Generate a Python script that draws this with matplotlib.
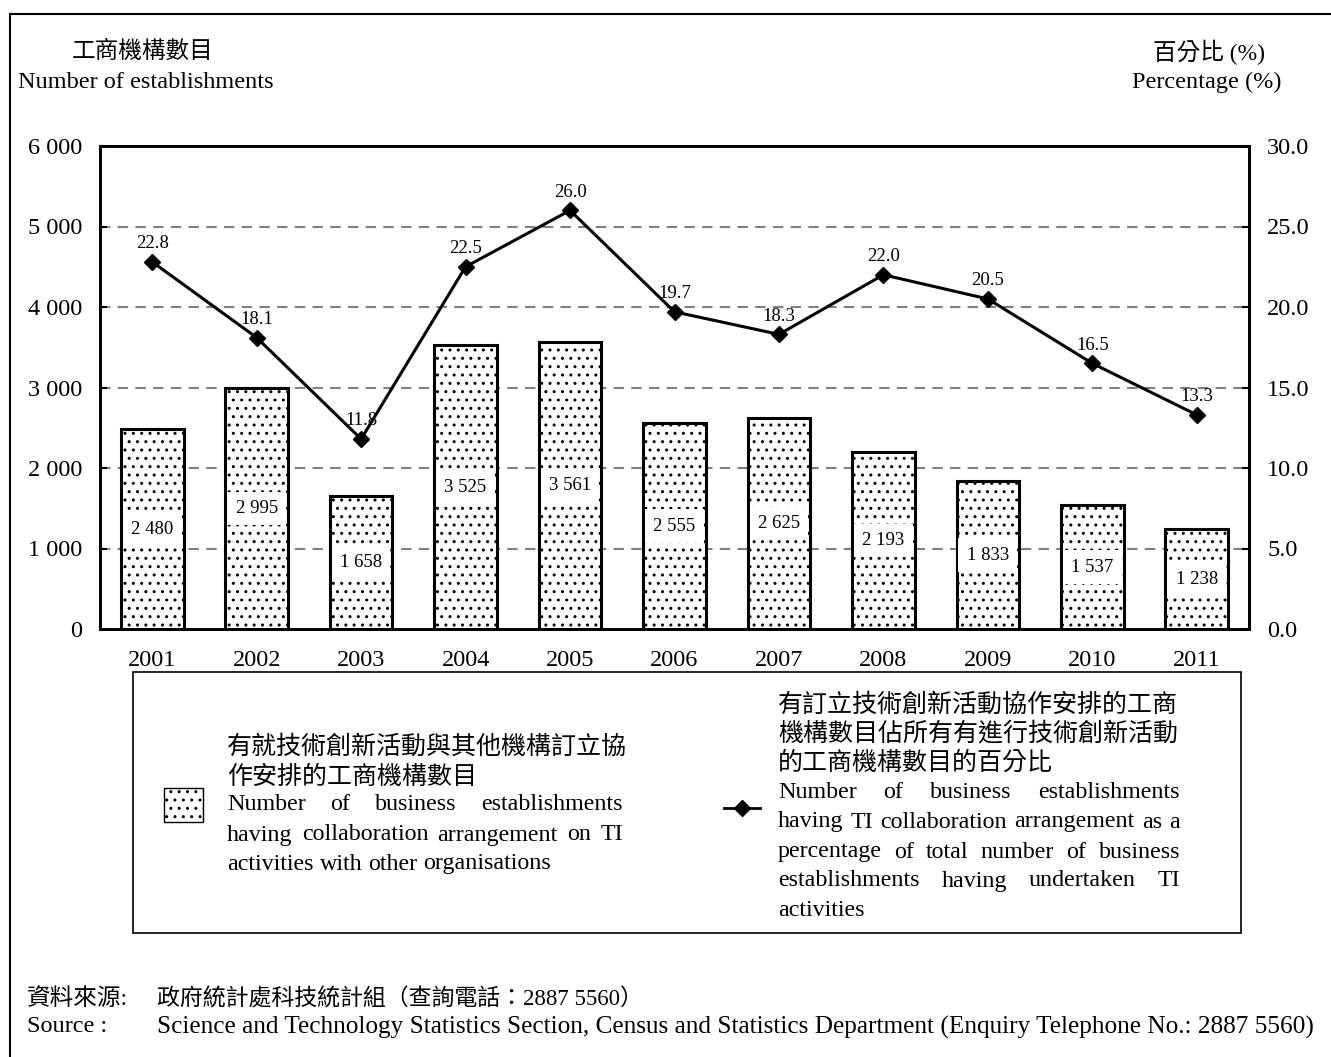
import matplotlib
matplotlib.use("Agg")
import matplotlib.pyplot as plt
from matplotlib.patches import Rectangle
from matplotlib.lines import Line2D
import numpy as np

plt.rcParams['hatch.linewidth'] = 1.0
FAM = ['Liberation Serif', 'Noto Sans CJK TC']
plt.rcParams['font.family'] = FAM

years = ['2001', '2002', '2003', '2004', '2005', '2006', '2007', '2008', '2009', '2010', '2011']
counts = [2480, 2995, 1658, 3525, 3561, 2555, 2625, 2193, 1833, 1537, 1238]
count_labels = ['2 480', '2 995', '1 658', '3 525', '3 561', '2 555', '2 625', '2 193', '1 833', '1 537', '1 238']
pct = [22.8, 18.1, 11.8, 22.5, 26.0, 19.7, 18.3, 22.0, 20.5, 16.5, 13.3]
left_ticks = [0, 1000, 2000, 3000, 4000, 5000, 6000]
left_ticklabels = ['0', '1 000', '2 000', '3 000', '4 000', '5 000', '6 000']
right_ticks = [0, 5, 10, 15, 20, 25, 30]
right_ticklabels = ['0.0', '5.0', '10.0', '15.0', '20.0', '25.0', '30.0']

W, H = 1331, 1057
fig = plt.figure(figsize=(W / 100, H / 100), dpi=100)

def fx(px):
    return px / W

def fy(py):
    return 1 - py / H

TFS = 17.5
ax = fig.add_axes([fx(100), fy(629), fx(1249) - fx(100), fy(146) - fy(629)])
x = np.arange(len(years))

# gridlines
for t in left_ticks[1:-1]:
    ax.axhline(t, color='#808080', lw=1.5, ls=(0, (5, 3.5)), zorder=0)

ax.bar(x, counts, width=0.6, facecolor='white', edgecolor='black', lw=2.2,
       hatch='..', zorder=2)
for xi, v, lab in zip(x, counts, count_labels):
    ax.text(xi, v / 2, lab, ha='center', va='center', fontsize=13.5, zorder=3,
            bbox=dict(facecolor='white', edgecolor='none', pad=6))

ax.set_xlim(-0.5, len(years) - 0.5)
ax.set_ylim(0, 6000)
ax.set_yticks(left_ticks)
ax.set_yticklabels(left_ticklabels, fontsize=TFS)
ax.set_xticks(x)
ax.set_xticklabels(years, fontsize=TFS)
ax.tick_params(axis='x', length=0, pad=15)
ax.tick_params(axis='y', direction='in', length=5, width=1.5, pad=13)
for s in ax.spines.values():
    s.set_linewidth(2)

ax2 = ax.twinx()
ax2.plot(x, pct, color='black', lw=2.2, marker='D', ms=8, zorder=5)
for xi, p in zip(x, pct):
    ax2.annotate(f'{p:.1f}', (xi, p), xytext=(0, 13), textcoords='offset points',
                 ha='center', va='center', fontsize=13.5)
ax2.set_ylim(0, 30)
ax2.set_yticks(right_ticks)
ax2.set_yticklabels(right_ticklabels, fontsize=TFS)
ax2.tick_params(axis='y', direction='in', length=5, width=1.5, pad=13)
for s in ax2.spines.values():
    s.set_linewidth(2)

# axis titles
fig.text(fx(143), fy(52), '工商機構數目', ha='center', va='center', fontsize=17)
fig.text(fx(18), fy(82), 'Number of establishments', ha='left', va='center', fontsize=17.5)
fig.text(fx(1209), fy(52), '百分比 (%)', ha='center', va='center', fontsize=17)
fig.text(fx(1282), fy(82), 'Percentage (%)', ha='right', va='center', fontsize=17.5)

# outer frame
fig.add_artist(Line2D([fx(10), fx(10)], [fy(14), 0], transform=fig.transFigure,
                      color='black', lw=1.5))
fig.add_artist(Line2D([fx(10), 1], [fy(14), fy(14)], transform=fig.transFigure,
                      color='black', lw=1.5))

# legend box
fig.add_artist(Rectangle((fx(133), fy(933)), fx(1241) - fx(133), fy(672) - fy(933),
                         transform=fig.transFigure, facecolor='none', edgecolor='black', lw=1.2))
fig.add_artist(Rectangle((fx(164), fy(822)), fx(203) - fx(164), fy(788) - fy(822),
                         transform=fig.transFigure, facecolor='white', edgecolor='black',
                         lw=1.0, hatch='..'))
fig.add_artist(Line2D([fx(724), fx(760)], [fy(808), fy(808)], transform=fig.transFigure,
                      color='black', lw=2))
fig.add_artist(Line2D([fx(742)], [fy(808)], transform=fig.transFigure,
                      color='black', marker='D', ms=8, lw=0))

renderer = fig.canvas.get_renderer()
LFS = 17.3
CFS = 18

def justified(words, x0, x1, y, justify=True, fs=LFS):
    texts = [fig.text(0, fy(y), w, ha='left', va='center', fontsize=fs) for w in words]
    widths = [t.get_window_extent(renderer).width for t in texts]
    if justify and len(words) > 1:
        gap = ((x1 - x0) - sum(widths)) / (len(words) - 1)
    else:
        gap = fs * 0.25 * 100 / 72
    cur = x0
    for t, w in zip(texts, widths):
        t.set_x(fx(cur))
        cur += w + gap

# left legend text
fig.text(fx(227), fy(747), '有就技術創新活動與其他機構訂立協', ha='left', va='center', fontsize=CFS)
fig.text(fx(227), fy(777), '作安排的工商機構數目', ha='left', va='center', fontsize=CFS)
justified('Number of business establishments'.split(), 227, 623, 805)
justified('having collaboration arrangement on TI'.split(), 227, 623, 835)
justified('activities with other organisations'.split(), 227, 623, 864, justify=False)

# right legend text
fig.text(fx(778), fy(705), '有訂立技術創新活動協作安排的工商', ha='left', va='center', fontsize=CFS)
fig.text(fx(778), fy(734), '機構數目佔所有有進行技術創新活動', ha='left', va='center', fontsize=CFS)
fig.text(fx(778), fy(763), '的工商機構數目的百分比', ha='left', va='center', fontsize=CFS)
justified('Number of business establishments'.split(), 778, 1180, 792)
justified('having TI collaboration arrangement as a'.split(), 778, 1180, 822)
justified('percentage of total number of business'.split(), 778, 1180, 852)
justified('establishments having undertaken TI'.split(), 778, 1180, 881)
justified(['activities'], 778, 1180, 910, justify=False)

# source
fig.text(fx(27), fy(999), '資料來源:', ha='left', va='center', fontsize=17)
fig.text(fx(157), fy(999), '政府統計處科技統計組（查詢電話：2887 5560）', ha='left', va='center', fontsize=16.5)
fig.text(fx(27), fy(1027), 'Source :', ha='left', va='center', fontsize=17.5)
fig.text(fx(157), fy(1027), 'Science and Technology Statistics Section, Census and Statistics Department (Enquiry Telephone No.: 2887 5560)',
         ha='left', va='center', fontsize=18.2)

fig.savefig('out.png', dpi=100)
